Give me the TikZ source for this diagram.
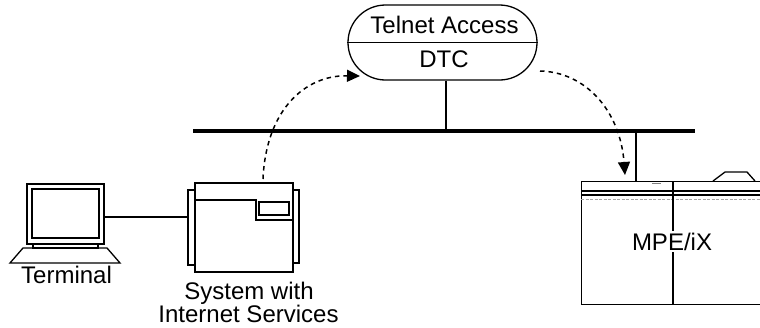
\documentclass[tikz,border=0pt]{standalone}
\usepackage{fontspec}
\setmainfont{Liberation Sans}
\usetikzlibrary{arrows.meta}
\begin{document}
\begin{tikzpicture}[x=1pt,y=-1pt,
  thinline/.style={line width=1.3pt},
  busline/.style={line width=4pt},
  flow/.style={line width=1.5pt, dash pattern=on 4.5pt off 4pt,
    -{Triangle[length=13pt,width=12pt]}},
  txt/.style={font=\fontsize{24}{26}\selectfont, inner sep=0pt, anchor=base},
  box/.style={draw, thinline, inner sep=0pt},
]
\useasboundingbox (0,0) rectangle (760,327);
\clip (0,0) rectangle (760,327);

% LAN bus
\coordinate (busL) at (193,131);
\coordinate (busR) at (695,131);
\draw[busline] (busL) -- (busR);

% Telnet access server (DTC)
\node[box, rounded corners=37.5pt, minimum width=189pt, minimum height=75pt] (dtc) at (442.5,42.5) {};
\draw[thinline] (dtc.west) -- (dtc.east);
\node[txt] (dtcname) at (444.5,33) {Telnet Access};
\node[txt] (dtctype) at (444,67) {DTC};
\coordinate (dtcTap) at (446,131);
\draw[thinline] (dtc.south -| dtcTap) -- (dtcTap);

% Terminal
\draw[thinline] (27,184) rectangle (104,244);
\draw[thinline] (32,189) rectangle (99,238);
\draw[thinline] (33,244) rectangle (98,248);
\draw[thinline] (23,248) -- (107,248) -- (120,263) -- (10,263) -- cycle;
\coordinate (term) at (104,217);
\node[txt] (termlabel) at (66.5,283) {Terminal};

% System with Internet Services
\node[box, minimum width=98pt, minimum height=89pt] (sys) at (244,227.5) {};
\draw[thinline] (188,190) rectangle (195,265);
\draw[thinline] (293,190) rectangle (299,263);
\draw[thinline] (195,200) -- (256,200) -- (256,220) -- (293,220);
\draw[thinline] (259,202) rectangle (289,215);
\coordinate (sysL) at (188,217);
\draw[thinline] (term) -- (sysL);
\node[txt] (syslabel1) at (249,299) {System with};
\node[txt] (syslabel2) at (248.5,322) {Internet Services};

% MPE/iX host
\node[box, minimum width=200pt, minimum height=123pt, anchor=north west] (mpe) at (581,181) {};
\draw[thinline] (581,191) -- (762,191);
\draw[thinline] (581,195) -- (762,195);
\draw[line width=0.8pt, gray!70, dash pattern=on 3pt off 1.5pt] (581,199) -- (762,199);
\draw[thinline] (673,181) -- (673,304);
\draw[line width=1pt, gray] (652,183) -- (661,183);
\draw[thinline] (713,181) -- (725,172) -- (747,172) -- (755,181);
\node[txt, fill=white, inner sep=2pt] (mpelabel) at (672,250) {MPE/iX};
\coordinate (mpeTap) at (636,131);
\draw[thinline] (mpeTap) -- (mpeTap |- mpe.north);

% Telnet session flow
\coordinate (flowA) at (263,179);
\coordinate (flowB) at (360,76);
\coordinate (flowC) at (540,71);
\coordinate (flowD) at (625,175);
\draw[flow] (flowA) .. controls (266,110) and (305,75) .. (flowB);
\draw[flow] (flowC) .. controls (585,72) and (620,110) .. (flowD);
\end{tikzpicture}
\end{document}
